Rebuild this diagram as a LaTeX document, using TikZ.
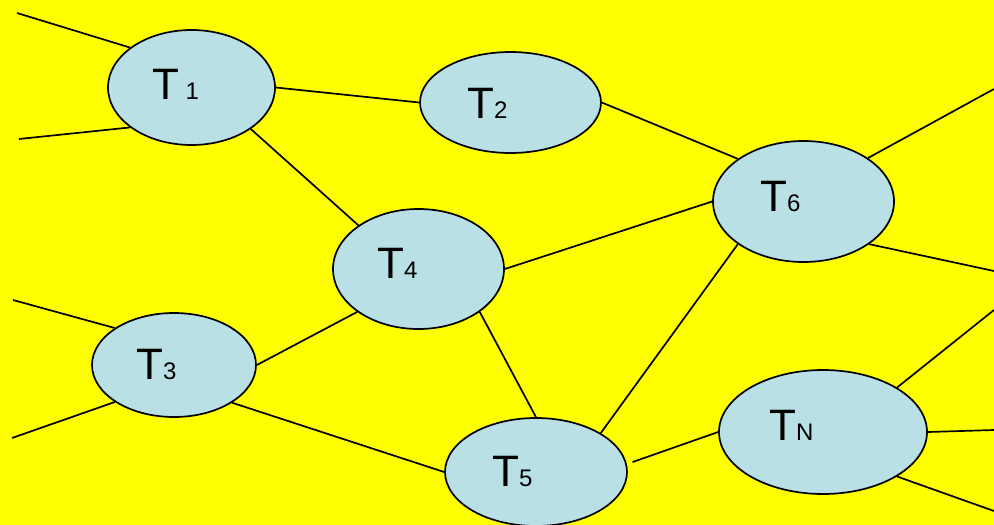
\documentclass[tikz,border=0pt]{standalone}
\usepackage{fontspec}
\setmainfont{Liberation Sans}
\usetikzlibrary{shapes.geometric}
\definecolor{cellblue}{RGB}{185,224,228}
\definecolor{bgyellow}{RGB}{255,255,0}
\newcommand\termidx[1]{{\fontsize{24}{26}\selectfont #1}}
\begin{document}
\begin{tikzpicture}[x=1pt,y=-1pt,
  term/.style={ellipse,draw,line width=1.7pt,fill=cellblue,inner sep=0pt},
  lab/.style={anchor=base west,inner sep=0pt,font=\fontsize{44}{48}\selectfont},
  link/.style={line width=1.7pt}]
\fill[bgyellow] (0,0) rectangle (994,525);
\useasboundingbox (0,0) rectangle (994,525);
% the terminals
\node[term,minimum width=167,minimum height=115] (T1) at (191.5,87.5) {};
\node[term,minimum width=181,minimum height=101] (T2) at (510.5,102.5) {};
\node[term,minimum width=164,minimum height=104] (T3) at (174,365) {};
\node[term,minimum width=171,minimum height=120] (T4) at (418.5,269) {};
\node[term,minimum width=182,minimum height=108] (T5) at (536,472) {};
\node[term,minimum width=181,minimum height=121] (T6) at (803.5,201.5) {};
\node[term,minimum width=208,minimum height=124] (TN) at (823,432) {};
\node[lab] (l1) at (152,99) {T\termidx{\ 1}};
\node[lab] (l2) at (467,118) {T\termidx{2}};
\node[lab] (l3) at (136,379) {T\termidx{3}};
\node[lab] (l4) at (377,278) {T\termidx{4}};
\node[lab] (l5) at (492,486) {T\termidx{5}};
\node[lab] (l6) at (760,211) {T\termidx{6}};
\node[lab] (lN) at (769,440) {T\termidx{N}};
% loose ends
\coordinate (a1) at (17,13);   \coordinate (a2) at (19,139);
\coordinate (a3) at (994,89);  \coordinate (a4) at (994,271);
\coordinate (a5) at (13,300);  \coordinate (a6) at (12,438);
\coordinate (a7) at (994,310); \coordinate (a8) at (994,430);
\coordinate (a9) at (994,511);
\draw[link] (a1)--(T1.147); \draw[link] (a2)--(T1.213);
\draw[link] (T1.east)--(T2.west);
\draw[link] (T1.-35)--(T4.144);
\draw[link] (T2.east)--(T6.147);
\draw[link] (T6.34)--(a3); \draw[link] (T6.-33)--(a4);
\draw[link] (T4.east)--(T6.west);
\draw[link] (T4.215)--(T3.east);
\draw[link] (T4.325)--(T5.north);
\draw[link] (T6.213)--(T5.31);
\draw[link] (a5)--(T3.148); \draw[link] (a6)--(T3.212);
\draw[link] (T3.327)--(T5.west);
\draw[link, shorten <=6pt] (T5.5)--(TN.west);
\draw[link] (TN.31)--(a7); \draw[link] (TN.east)--(a8);
\draw[link] (TN.-31)--(a9);
\end{tikzpicture}
\end{document}
